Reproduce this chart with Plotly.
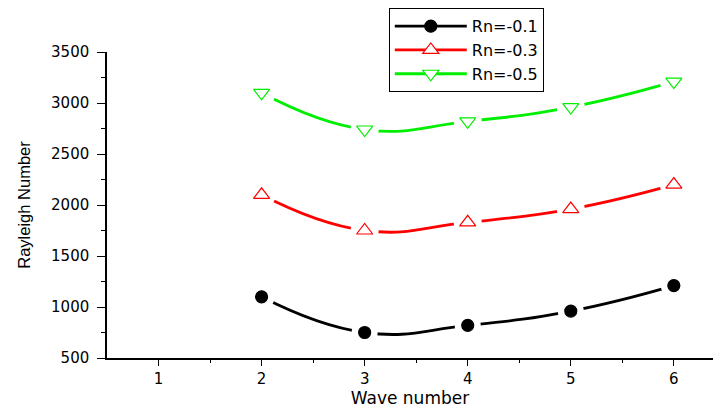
import plotly.graph_objects as go

wave = [2, 3, 4, 5, 6]
rn01 = [1100, 750, 820, 960, 1210]
rn03 = [2100, 1750, 1830, 1960, 2200]
rn05 = [3100, 2740, 2820, 2960, 3210]

series = [
    ("Rn=-0.1", rn01, "black", "circle", "black", 12),
    ("Rn=-0.3", rn03, "#ff0000", "triangle-up", "white", 14),
    ("Rn=-0.5", rn05, "#00ee00", "triangle-down", "white", 14),
]

fig = go.Figure()
for name, ys, col, sym, fill, sz in series:
    fig.add_trace(go.Scatter(
        x=wave, y=ys, name=name, mode="lines+markers",
        line=dict(color=col, width=2.8, shape="spline", smoothing=1.3),
        marker=dict(symbol=sym, size=sz, color=fill, line=dict(color=col, width=1.2)),
    ))
for name, ys, col, sym, fill, sz in series:
    fig.add_trace(go.Scatter(
        x=wave, y=ys, mode="markers", showlegend=False, hoverinfo="skip",
        marker=dict(symbol="circle", size=sz + 14, color="white"),
    ))
    fig.add_trace(go.Scatter(
        x=wave, y=ys, mode="markers", showlegend=False,
        marker=dict(symbol=sym, size=sz, color=fill, line=dict(color=col, width=1.2)),
    ))

tickfont = dict(family="DejaVu Sans, Liberation Sans", size=15)

fig.update_layout(
    width=715, height=408,
    margin=dict(l=107, r=2, t=52, b=50),
    paper_bgcolor="white", plot_bgcolor="white",
    font=dict(family="DejaVu Sans, Liberation Sans, Arial", color="black", size=14),
    legend=dict(
        x=0.465, y=1.143, xanchor="left", yanchor="top",
        bordercolor="black", borderwidth=1, bgcolor="white",
        font=dict(size=16), tracegroupgap=0, itemwidth=72,
    ),
    xaxis=dict(
        range=[0.5, 6.38], tickvals=[1, 2, 3, 4, 5, 6], tickfont=tickfont,
        showline=True, linecolor="black", linewidth=1.5, showgrid=False, zeroline=False,
        ticks="outside", ticklen=6, tickwidth=1.2, tickcolor="black",
        minor=dict(tickvals=[1.5, 2.5, 3.5, 4.5, 5.5], ticks="outside", ticklen=3, tickcolor="black", tickwidth=1.2),
        title=dict(text="Wave number", font=dict(size=17), standoff=6),
    ),
    yaxis=dict(
        range=[500, 3500], tickvals=[500, 1000, 1500, 2000, 2500, 3000, 3500], tickfont=tickfont,
        showline=True, linecolor="black", linewidth=1.5, showgrid=False, zeroline=False,
        ticks="outside", ticklen=8, tickwidth=1.2, tickcolor="black", ticklabelstandoff=5,
        minor=dict(tickvals=[750, 1250, 1750, 2250, 2750, 3250], ticks="outside", ticklen=4, tickcolor="black", tickwidth=1.2),
        title=dict(text="Rayleigh Number", font=dict(size=16.5, family="Liberation Sans, Arial"), standoff=16),
    ),
)

fig.write_html("out.html")
